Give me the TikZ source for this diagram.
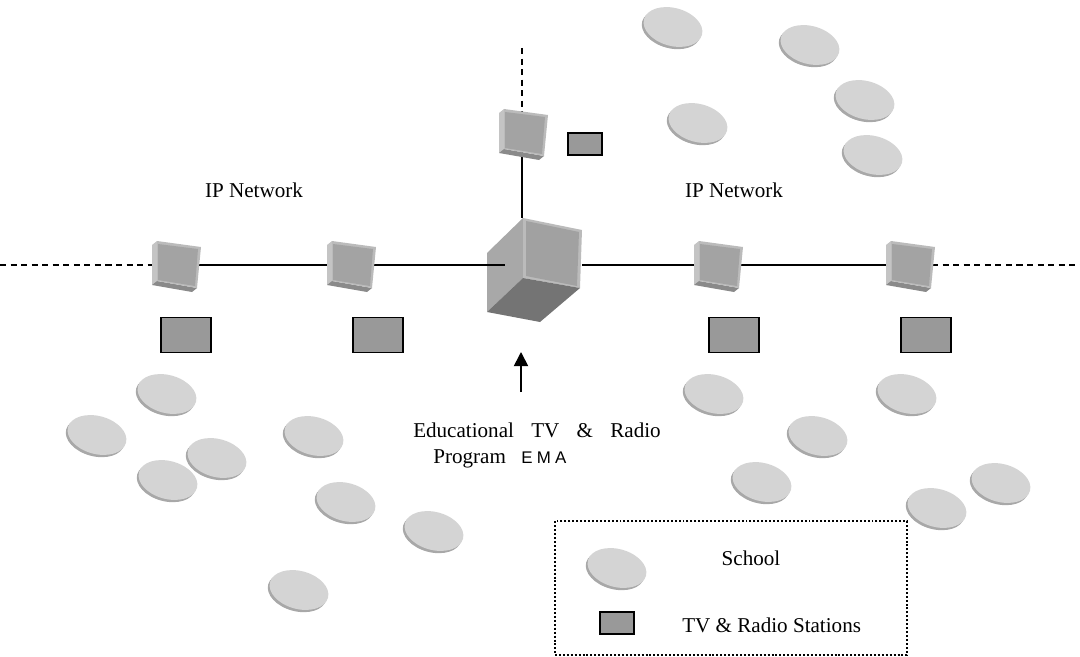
\documentclass[tikz,border=0pt]{standalone}
\usepackage{fontspec}
\setmainfont{Liberation Serif}
\setsansfont{Liberation Sans}
\usetikzlibrary{shapes.geometric,arrows.meta,shadows}

\definecolor{schoolgray}{HTML}{D4D4D4}
\definecolor{schoolshade}{HTML}{A8A8A8}
\definecolor{rfront}{HTML}{A3A3A3}
\definecolor{rside}{HTML}{C4C4C4}
\definecolor{rbottom}{HTML}{8A8A8A}
\definecolor{rlight}{HTML}{BBBBBB}
\definecolor{cubeleft}{HTML}{A8A8A8}
\definecolor{cuberight}{HTML}{A1A1A1}
\definecolor{cubebottom}{HTML}{747474}
\definecolor{stationgray}{HTML}{999999}

\begin{document}
\begin{tikzpicture}[x=0.025cm,y=-0.025cm,
  txt/.style={font=\fontsize{15}{18}\selectfont, inner sep=0pt},
  link/.style={line width=1.2pt},
  dashlink/.style={line width=1.2pt, dash pattern=on 4.3pt off 3.2pt},
  station/.style={draw=black, line width=1.4pt, fill=stationgray, inner sep=0pt},
  school/.style={ellipse, fill=schoolgray, inner sep=0pt,
    minimum width=1.5cm, minimum height=0.95cm, rotate=-15,
    drop shadow={shadow xshift=-1.3pt, shadow yshift=-1.6pt, fill=schoolshade, opacity=1}},
  legendbox/.style={draw=black, line width=1.4pt, dash pattern=on 1.4pt off 1.4pt, inner sep=0pt},
  router/.pic={
    % left side face
    \fill[rside] (-20,-24) -- (-25,-20) -- (-25,20) -- (-20,16) -- cycle;
    % bottom face
    \fill[rbottom] (-20,16) -- (20,23) -- (15,27) -- (-25,20) -- cycle;
    % front face with a light bevel along top and right edges
    \fill[rlight] (-20,-24) -- (24,-18) -- (20,23) -- (-20,16) -- cycle;
    \fill[rfront] (-19,-21) -- (21,-16) -- (18,21) -- (-19,15) -- cycle;
  }
]
\useasboundingbox (0,0) rectangle (1080,657);

% ---- positions of the network elements ----
\coordinate (r1) at (177,265);
\coordinate (r2) at (352,265);
\coordinate (r3) at (719,265);
\coordinate (r4) at (911,265);
\coordinate (r0) at (524,133);
\coordinate (lend) at (0,265);
\coordinate (rend) at (1080,265);
\coordinate (topend) at (522,48);
\coordinate (topin) at (522,133);
\coordinate (hubW) at (505,265);
\coordinate (hubE) at (582,265);
\coordinate (hubN) at (522,218);

% ---- backbone lines (behind the devices) ----
\draw[dashlink] (lend) -- (r1);
\draw[link] (r1) -- (r2) -- (hubW);
\draw[link] (hubE) -- (r3) -- (r4);
\draw[dashlink] (r4) -- (rend);
\draw[dashlink] (topend) -- (topin);
\draw[link] (topin) -- (hubN);

% ---- central hub cube ----
\coordinate (cA) at (523,218);
\coordinate (cB) at (582,230);
\coordinate (cC) at (580,288);
\coordinate (cD) at (523,278);
\coordinate (cE) at (487,253);
\coordinate (cF) at (487,312);
\coordinate (cG) at (540,322);
\fill[cubeleft] (cE) -- (cA) -- (cD) -- (cF) -- cycle;
\fill[rlight] (cA) -- (cB) -- (cC) -- (cD) -- cycle;
\fill[cuberight] (526,221) -- (579,232) -- (577,286) -- (526,276) -- cycle;
\fill[cubebottom] (cF) -- (cD) -- (cC) -- (cG) -- cycle;
\draw[link] (r2) -- (hubW);

% ---- routers ----
\foreach \r in {r0,r1,r2,r3,r4} \pic at (\r) {router};

% ---- TV & radio stations ----
\node[station, minimum width=1.25cm, minimum height=0.875cm] (s1) at (186,335) {};
\node[station, minimum width=1.25cm, minimum height=0.875cm] (s2) at (378,335) {};
\node[station, minimum width=1.25cm, minimum height=0.875cm] (s3) at (734,335) {};
\node[station, minimum width=1.25cm, minimum height=0.875cm] (s4) at (926,335) {};
\node[station, minimum width=0.83cm, minimum height=0.53cm] (s0) at (585,144) {};

% ---- schools ----
\foreach \n/\p in {a1/{(673,27)}, a2/{(810,45)}, a3/{(865,100)}, a4/{(698,123)}, a5/{(873,155)},
                   b1/{(167,394)}, b2/{(97,435)}, b3/{(217,458)}, b4/{(314,436)}, b5/{(168,480)},
                   b6/{(346,502)}, b7/{(434,531)}, b8/{(299,590)},
                   c1/{(714,394)}, c2/{(907,394)}, c3/{(818,436)}, c4/{(762,482)},
                   c5/{(1001,483)}, c6/{(937,508)}}
  \node[school] (\n) at \p {};

% ---- labels ----
\node[txt] (ip1) at (254,190) {IP Network};
\node[txt] (ip2) at (734,190) {IP Network};

% program input arrow
\coordinate (arrS) at (521,392);
\coordinate (arrT) at (521,352);
\draw[line width=1.2pt, -{Triangle[length=10pt,width=10pt]}] (arrS) -- (arrT);
\node[txt, anchor=base] (prog1) at (537,437)
  {\makebox[176pt][s]{Educational TV \& Radio}};
\node[txt, anchor=base west] (prog2) at (433,463)
  {Program\hspace{11pt}{\sffamily\fontsize{12}{14}\selectfont E\hspace{3pt}M\hspace{3pt}A}};

% ---- legend ----
\node[legendbox, minimum width=8.8cm, minimum height=3.35cm, anchor=north west] (legend) at (554,520) {};
\node[school] (lschool) at (617,568) {};
\node[station, minimum width=0.83cm, minimum height=0.53cm] (lstation) at (617,623) {};
\node[txt, anchor=base] (lt1) at (751,565) {School};
\node[txt, anchor=base west] (lt2) at (682,632) {TV \& Radio Stations};
\end{tikzpicture}
\end{document}
